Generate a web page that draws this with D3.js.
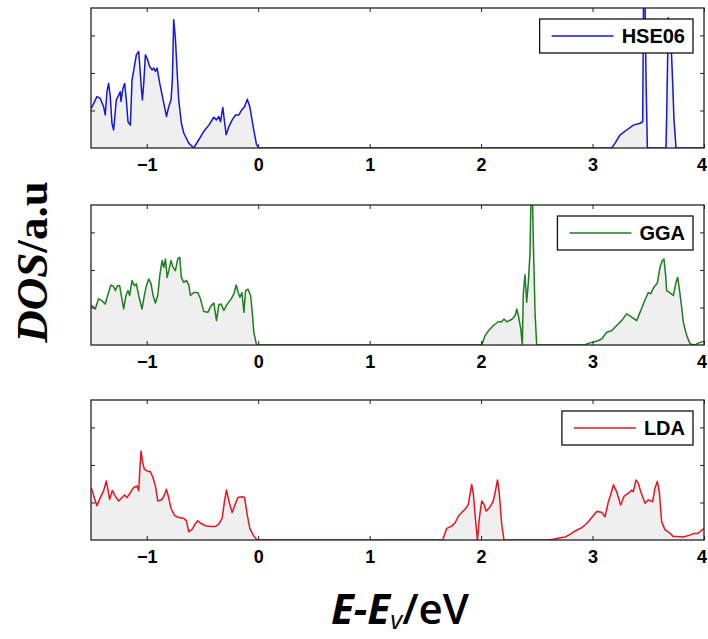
<!DOCTYPE html>
<html>
<head>
<meta charset="utf-8">
<script src="https://cdn.jsdelivr.net/npm/d3@7"></script>
<style>
  html, body { margin: 0; padding: 0; background: #fff; }
  svg { display: block; }
</style>
</head>
<body>
<svg id="chart" width="708" height="639"></svg>
<script>
// ---------------- DATA ----------------
const xTicks = [-1, 0, 1, 2, 3, 4];
const yTicks = [1, 2, 3];
const xDomain = [-1.5, 4];
const yDomain = [0, 3.73];

const hse06 = [
  [-1.5,1.05],[-1.49,1.10],[-1.447,1.37],[-1.417,1.32],[-1.387,1.10],[-1.372,0.88],[-1.357,1.50],[-1.342,1.72],
  [-1.327,1.37],[-1.312,0.66],[-1.297,0.48],[-1.273,1.28],[-1.252,1.41],[-1.237,1.50],[-1.231,1.24],[-1.213,1.59],
  [-1.198,1.72],[-1.183,1.28],[-1.168,0.70],[-1.147,0.61],[-1.132,1.81],[-1.111,2.17],[-1.093,2.48],[-1.072,2.57],
  [-1.063,2.21],[-1.048,1.59],[-1.039,1.28],[-1.027,1.72],[-1.012,2.48],[-0.997,2.39],[-0.973,2.17],[-0.952,2.08],
  [-0.937,2.13],[-0.922,2.04],[-0.907,2.13],[-0.883,1.72],[-0.853,1.28],[-0.823,0.84],[-0.803,1.10],[-0.782,1.28],
  [-0.770,1.81],[-0.758,3.42],[-0.743,2.93],[-0.728,2.08],[-0.713,1.28],[-0.689,0.66],[-0.668,0.40],[-0.623,0.13],
  [-0.578,0.0],[-0.533,0.22],[-0.488,0.44],[-0.443,0.61],[-0.398,0.82],[-0.374,0.75],[-0.353,0.84],[-0.338,0.70],
  [-0.317,1.08],[-0.302,0.70],[-0.287,0.35],[-0.263,0.57],[-0.233,0.75],[-0.203,0.88],[-0.173,0.88],[-0.149,1.01],
  [-0.122,1.10],[-0.098,1.30],[-0.075,1.10],[-0.045,0.57],[-0.015,0.09],[0.006,0],
  [3.172,0],[3.202,0.13],[3.247,0.35],[3.307,0.48],[3.366,0.61],[3.426,0.66],[3.450,0.70],[3.462,6.0],
  [3.480,1.81],[3.492,0],[3.659,0],[3.665,0.88],[3.680,3.47],[3.701,3.07],[3.719,1.73],[3.731,0.75],
  [3.749,0],[4.0,0]
];

const gga = [
  [-1.5,1.02],[-1.492,1.05],[-1.462,0.96],[-1.432,1.23],[-1.402,1.18],[-1.372,1.09],[-1.351,1.32],[-1.321,1.60],
  [-1.297,1.56],[-1.282,1.45],[-1.261,1.58],[-1.243,1.58],[-1.228,1.32],[-1.207,0.96],[-1.186,1.32],[-1.168,1.45],
  [-1.153,1.32],[-1.132,1.72],[-1.111,1.58],[-1.093,1.63],[-1.072,1.32],[-1.042,0.96],[-1.021,1.32],[-1.003,1.58],
  [-0.982,1.76],[-0.961,1.63],[-0.943,1.32],[-0.922,1.12],[-0.901,1.32],[-0.883,1.85],[-0.862,2.25],[-0.847,2.07],
  [-0.832,2.29],[-0.817,1.80],[-0.802,1.98],[-0.782,2.25],[-0.764,2.07],[-0.743,1.98],[-0.722,2.29],[-0.704,2.34],
  [-0.689,1.80],[-0.668,1.67],[-0.644,1.72],[-0.623,1.60],[-0.608,1.32],[-0.578,1.40],[-0.542,1.40],[-0.518,1.23],
  [-0.488,0.89],[-0.452,0.87],[-0.422,1.05],[-0.398,1.12],[-0.374,0.65],[-0.353,1.07],[-0.332,1.09],[-0.308,0.92],
  [-0.278,1.09],[-0.242,1.23],[-0.218,1.36],[-0.197,1.60],[-0.179,1.40],[-0.164,1.27],[-0.146,1.40],[-0.128,0.87],
  [-0.113,1.45],[-0.092,1.49],[-0.068,1.32],[-0.053,0.87],[-0.039,0.34],[-0.015,0],
  [2.006,0],[2.036,0.25],[2.066,0.38],[2.110,0.52],[2.155,0.62],[2.185,0.62],[2.206,0.69],[2.230,0.62],
  [2.274,0.68],[2.305,0.78],[2.320,0.96],[2.335,0.78],[2.356,0.43],[2.370,0],[2.379,1.40],[2.394,1.87],
  [2.409,1.14],[2.424,1.67],[2.439,2.47],[2.454,5.0],[2.469,2.74],[2.484,0.87],[2.499,0],
  [2.933,0],[2.948,0.03],[2.993,0.07],[3.037,0.10],[3.082,0.16],[3.127,0.34],[3.171,0.38],[3.216,0.52],
  [3.261,0.65],[3.306,0.83],[3.351,0.74],[3.396,0.65],[3.426,0.87],[3.462,1.14],[3.500,1.40],[3.521,1.36],
  [3.551,1.54],[3.581,1.65],[3.605,2.07],[3.626,2.25],[3.641,2.29],[3.656,1.85],[3.665,1.45],[3.695,1.39],
  [3.725,1.32],[3.749,1.67],[3.764,1.80],[3.779,1.49],[3.794,1.14],[3.815,0.60],[3.845,0.25],[3.875,0.03],
  [3.919,0],[3.949,0.05],[3.988,0.09],[4.0,0.10]
];

const lda = [
  [-1.5,1.38],[-1.492,1.35],[-1.471,1.13],[-1.447,0.91],[-1.417,1.13],[-1.387,1.31],[-1.363,1.57],[-1.348,1.35],
  [-1.333,1.08],[-1.309,1.32],[-1.282,1.17],[-1.252,1.04],[-1.222,1.13],[-1.198,1.20],[-1.177,1.13],[-1.147,1.26],
  [-1.117,1.40],[-1.087,1.44],[-1.072,1.31],[-1.063,1.82],[-1.051,2.37],[-1.036,2.06],[-1.021,1.88],[-0.997,1.84],
  [-0.967,1.82],[-0.943,1.66],[-0.922,1.44],[-0.901,1.04],[-0.862,1.08],[-0.841,1.20],[-0.823,1.35],[-0.803,1.13],
  [-0.782,0.84],[-0.749,0.65],[-0.713,0.60],[-0.668,0.58],[-0.644,0.51],[-0.623,0.22],[-0.593,0.28],[-0.563,0.44],
  [-0.542,0.51],[-0.512,0.44],[-0.473,0.38],[-0.428,0.36],[-0.383,0.36],[-0.353,0.42],[-0.323,0.58],[-0.302,1.04],
  [-0.284,1.33],[-0.263,1.04],[-0.233,0.73],[-0.212,0.91],[-0.182,1.13],[-0.143,1.15],[-0.122,1.13],[-0.098,0.67],
  [-0.075,0.31],[-0.045,0.13],[-0.009,0],
  [1.656,0],[1.692,0.31],[1.737,0.37],[1.767,0.46],[1.797,0.64],[1.826,0.73],[1.856,0.82],[1.886,0.95],
  [1.901,1.22],[1.916,1.48],[1.931,1.22],[1.946,0.67],[1.967,0],[1.985,0.60],[2.006,1.04],[2.027,0.95],
  [2.045,0.77],[2.075,0.86],[2.105,1.00],[2.126,1.26],[2.147,1.60],[2.164,1.22],[2.185,0.42],[2.206,0],
  [2.604,0],[2.649,0.02],[2.709,0.06],[2.754,0.08],[2.798,0.15],[2.843,0.24],[2.903,0.33],[2.948,0.44],
  [2.993,0.60],[3.037,0.76],[3.082,0.74],[3.112,0.62],[3.142,1.02],[3.166,1.24],[3.187,1.47],[3.216,1.29],
  [3.252,0.93],[3.282,1.16],[3.321,1.24],[3.351,1.33],[3.366,1.29],[3.390,1.60],[3.411,1.51],[3.432,1.29],
  [3.471,0.98],[3.500,1.07],[3.539,1.02],[3.560,1.38],[3.581,1.56],[3.599,1.29],[3.620,0.49],[3.650,0.27],
  [3.695,0.18],[3.725,0.09],[3.755,0.09],[3.815,0.08],[3.875,0.13],[3.904,0.17],[3.943,0.17],[3.979,0.26],[4.0,0.30]
];

const seriesNames = ["HSE06", "GGA", "LDA"];
const seriesData = [hse06, gga, lda];
const seriesColors = ["#1414e6", "#1e7d1e", "#e8141e"];

// ---------------- LAYOUT ----------------
const svg = d3.select("#chart");
const left = 91, right = 704;
const panelTops = [8, 205, 400];
const panelH = 140;

const x = d3.scaleLinear().domain(xDomain).range([left, right]);

seriesNames.forEach((name, i) => {
  const top = panelTops[i];
  const y = d3.scaleLinear().domain(yDomain).range([top + panelH, top]);
  const g = svg.append("g");
  const clipId = "clip" + i;
  svg.append("clipPath").attr("id", clipId)
    .append("rect").attr("x", left).attr("y", top).attr("width", right - left).attr("height", panelH);

  const data = seriesData[i];
  const area = d3.area().x(d => x(d[0])).y0(y(0)).y1(d => y(d[1]));
  const line = d3.line().x(d => x(d[0])).y(d => y(d[1]));

  const plot = g.append("g").attr("clip-path", `url(#${clipId})`);
  plot.append("path").datum(data).attr("d", area).attr("fill", "#efefef");
  plot.append("path").datum(data).attr("d", line)
    .attr("fill", "none").attr("stroke", seriesColors[i]).attr("stroke-width", 1.5)
    .attr("stroke-linejoin", "round");

  // axes (inward ticks, matlab style)
  const bottomAx = d3.axisBottom(x).tickValues(xTicks).tickSize(-4).tickPadding(10).tickFormat(d3.format("d"));
  const bAx = g.append("g").attr("transform", `translate(0,${top + panelH})`).call(bottomAx);
  bAx.selectAll("text").attr("font-family", "Liberation Sans, Arial, sans-serif")
    .attr("font-size", 18).attr("font-weight", "bold").attr("fill", "#000")
    .attr("dx", d => d === 4 ? -2.5 : 0);
  const topAx = d3.axisTop(x).tickValues(xTicks).tickSize(-4).tickFormat("");
  g.append("g").attr("transform", `translate(0,${top})`).call(topAx);
  const leftAx = d3.axisLeft(y).tickValues(yTicks).tickSize(-4).tickFormat("");
  g.append("g").attr("transform", `translate(${left},0)`).call(leftAx);
  const rightAx = d3.axisRight(y).tickValues(yTicks).tickSize(-4).tickFormat("");
  g.append("g").attr("transform", `translate(${right},0)`).call(rightAx);
  g.selectAll(".domain").remove();
  g.selectAll(".tick line").attr("stroke", "#222").attr("stroke-width", 1);

  g.append("rect").attr("x", left).attr("y", top).attr("width", right - left).attr("height", panelH)
    .attr("fill", "none").attr("stroke", "#222").attr("stroke-width", 1.3);

  // legend
  const lg = g.append("g");
  const boxRight = 693, boxTop = top + 11, boxH = 34;
  const txt = lg.append("text").text(name)
    .attr("font-family", "Liberation Sans, Arial, sans-serif").attr("font-weight", "bold")
    .attr("font-size", 20).attr("fill", "#000");
  const tw = txt.node().getComputedTextLength();
  const textX = boxRight - 8 - tw;
  txt.attr("x", textX).attr("y", boxTop + boxH / 2 + 7);
  const lineEnd = textX - 8, lineStart = lineEnd - 62;
  const boxLeft = lineStart - 12;
  lg.insert("rect", "text").attr("x", boxLeft).attr("y", boxTop).attr("width", boxRight - boxLeft).attr("height", boxH)
    .attr("fill", "#fff").attr("stroke", "#111").attr("stroke-width", 1.3);
  lg.append("line").attr("x1", lineStart).attr("x2", lineEnd)
    .attr("y1", boxTop + boxH / 2).attr("y2", boxTop + boxH / 2)
    .attr("stroke", seriesColors[i]).attr("stroke-width", 1.5);
});

// Y axis label
const yl = svg.append("text")
  .attr("transform", "translate(47,262) rotate(-90)")
  .attr("text-anchor", "middle")
  .attr("font-family", "Liberation Serif, Times New Roman, serif")
  .attr("font-weight", "bold").attr("font-size", 45).attr("fill", "#000");
yl.append("tspan").attr("font-style", "italic").text("DOS");
yl.append("tspan").text("/a.u");

// X axis label
const xl = svg.append("text")
  .attr("x", 400).attr("y", 624).attr("text-anchor", "middle")
  .attr("font-family", "Open Sans, Noto Sans, sans-serif")
  .attr("font-size", 42).attr("fill", "#000");
xl.append("tspan").attr("font-style", "italic").attr("font-weight", "bold").text("E-E");
xl.append("tspan").attr("font-style", "italic").attr("font-size", 26).attr("dy", 5).text("v");
xl.append("tspan").attr("dy", -5).attr("font-weight", 600).text("/eV");
</script>
</body>
</html>
